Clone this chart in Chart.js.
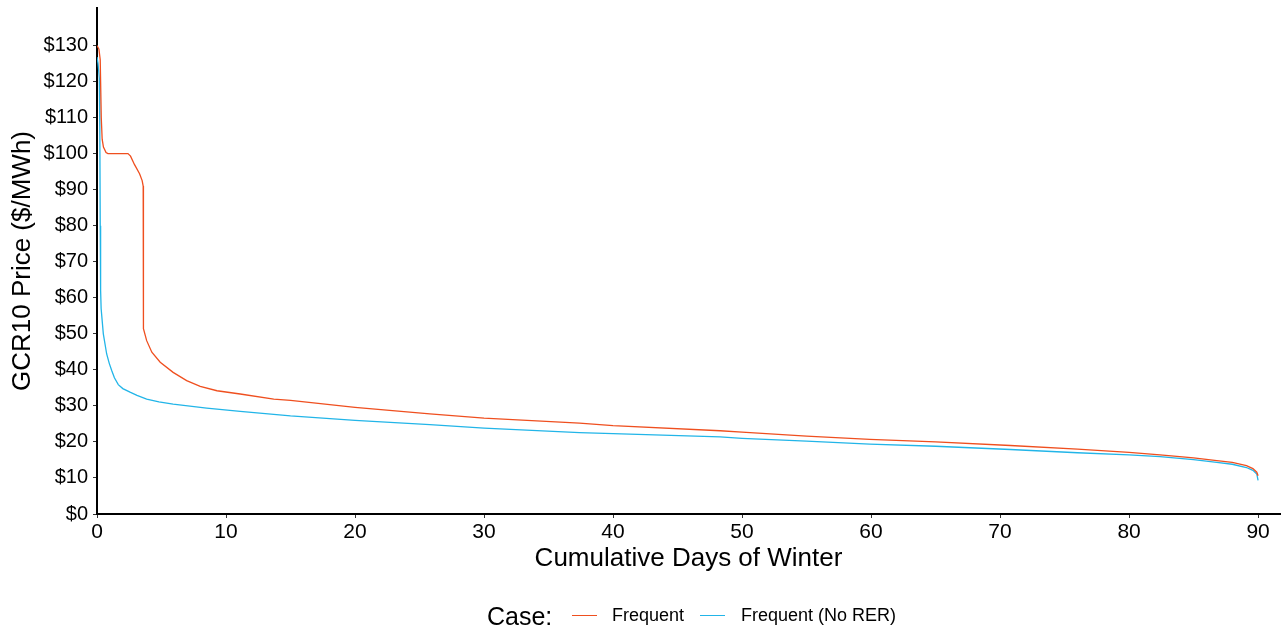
<!DOCTYPE html>
<html>
<head>
<meta charset="utf-8">
<script src="https://cdn.jsdelivr.net/npm/chart.js@4/dist/chart.umd.min.js"></script>
<style>
  html, body { margin: 0; padding: 0; background: #fff; }
  #wrap { position: relative; width: 1283px; height: 627px; }
  #legend { position: absolute; left: 0; top: 602px; width: 1283px; height: 30px;
            font-family: Arial, "Liberation Sans", sans-serif; color: #000; }
  #legend span { position: absolute; white-space: nowrap; }
  .sw { position: absolute; height: 0; border-top: 1.5px solid; width: 25px; }
</style>
</head>
<body>
<div id="wrap">
  <canvas id="c" width="1283" height="627"></canvas>
  <div id="legend">
    <span style="left:487px; top:0px; font-size:25px;">Case:</span>
    <div class="sw" style="left:572px; top:13px; border-color:#EF4F1F;"></div>
    <span style="left:612px; top:3px; font-size:18px;">Frequent</span>
    <div class="sw" style="left:700px; top:13px; border-color:#22B5E8;"></div>
    <span style="left:741px; top:3px; font-size:18px;">Frequent (No RER)</span>
  </div>
</div>
<script>
// Frequent
const freqDays  = [0, 0.15, 0.25, 0.33, 0.4, 0.5, 0.7, 0.85, 2.4, 2.6, 2.9, 3.3, 3.5, 3.58, 3.6, 3.85, 4.25, 4.9, 5.9, 6.95, 8.0, 9.3, 11.1, 13.7, 15, 20, 25.8, 30, 37.4, 40, 48.3, 50, 55, 59.9, 65, 70.8, 76, 80, 82.4, 85, 86.8, 88, 89.1, 89.6, 89.9, 90];
const freqPrice = [130, 129, 126, 110, 104, 101.8, 100.3, 100, 100, 99.3, 97, 94.4, 92.5, 91, 51.4, 48.1, 44.9, 42.1, 39.3, 37, 35.4, 34.2, 33.3, 31.9, 31.5, 29.6, 27.8, 26.6, 25.2, 24.5, 23.1, 22.7, 21.6, 20.7, 20, 19, 18, 17.1, 16.4, 15.6, 14.8, 14.3, 13.4, 12.6, 11.6, 10.6];
// Frequent (No RER)
const noRerDays  = [0, 0.08, 0.18, 0.22, 0.25, 0.28, 0.32, 0.49, 0.75, 0.95, 1.14, 1.35, 1.65, 2.0, 2.56, 3.1, 3.85, 4.8, 5.9, 8.5, 11.1, 15, 20, 25.8, 30, 37.4, 40, 48.3, 50, 55, 59.9, 65, 70.8, 76, 80, 82.4, 85, 86.8, 88, 89.1, 89.6, 89.9, 90];
const noRerPrice = [126.8, 125, 121, 105, 80, 62, 57, 50, 44.4, 41.8, 39.8, 37.8, 35.9, 34.8, 33.8, 32.9, 31.9, 31.1, 30.5, 29.4, 28.5, 27.2, 26, 24.8, 23.8, 22.6, 22.3, 21.4, 21, 20.2, 19.4, 18.8, 17.9, 17, 16.4, 15.9, 15.1, 14.3, 13.8, 12.9, 12.1, 11.1, 9.3];

const xTicks = [0, 10, 20, 30, 40, 50, 60, 70, 80, 90];
const yTicks = [0, 10, 20, 30, 40, 50, 60, 70, 80, 90, 100, 110, 120, 130];

const toPts = (xs, ys) => xs.map((x, i) => ({ x: x, y: ys[i] }));
const FONT = 'Arial, "Liberation Sans", sans-serif';

new Chart(document.getElementById('c'), {
  type: 'line',
  data: {
    datasets: [
      { label: 'Frequent', data: toPts(freqDays, freqPrice), borderColor: '#EF4F1F',
        borderWidth: 1.3, pointRadius: 0, tension: 0, fill: false },
      { label: 'Frequent (No RER)', data: toPts(noRerDays, noRerPrice), borderColor: '#22B5E8',
        borderWidth: 1.3, pointRadius: 0, tension: 0, fill: false }
    ]
  },
  options: {
    responsive: false,
    animation: false,
    layout: { padding: { left: 0, right: 3, top: 8, bottom: 53 } },
    plugins: { legend: { display: false }, tooltip: { enabled: false } },
    scales: {
      x: {
        type: 'linear', min: 0, max: 91.7,
        afterBuildTicks: s => { s.ticks = xTicks.map(v => ({ value: v })); },
        afterFit: s => { s.height = 60; s.paddingLeft = 0; s.paddingRight = 0; },
        grid: { display: true, drawOnChartArea: false, drawTicks: true, tickLength: 4, color: '#333', lineWidth: 1 },
        border: { display: true, color: '#000', width: 2 },
        ticks: { color: '#000', font: { family: FONT, size: 21 }, padding: 2, maxRotation: 0, autoSkip: false },
        title: { display: true, text: 'Cumulative Days of Winter', color: '#000',
                 font: { family: FONT, size: 26 }, padding: { top: 0, bottom: 0 } }
      },
      y: {
        type: 'linear', min: 0, max: 140.4,
        afterBuildTicks: s => { s.ticks = yTicks.map(v => ({ value: v })); },
        afterFit: s => { s.width = 97; s.paddingTop = 0; s.paddingBottom = 0; },
        grid: { display: true, drawOnChartArea: false, drawTicks: true, tickLength: 4, color: '#333', lineWidth: 1 },
        border: { display: true, color: '#000', width: 2 },
        ticks: { color: '#000', font: { family: FONT, size: 20 }, padding: 5, autoSkip: false,
                 callback: v => '$' + v },
        title: { display: true, text: 'GCR10 Price ($/MWh)', color: '#000',
                 font: { family: FONT, size: 26 }, padding: { top: 7, bottom: 0 } }
      }
    }
  }
});
</script>
</body>
</html>
